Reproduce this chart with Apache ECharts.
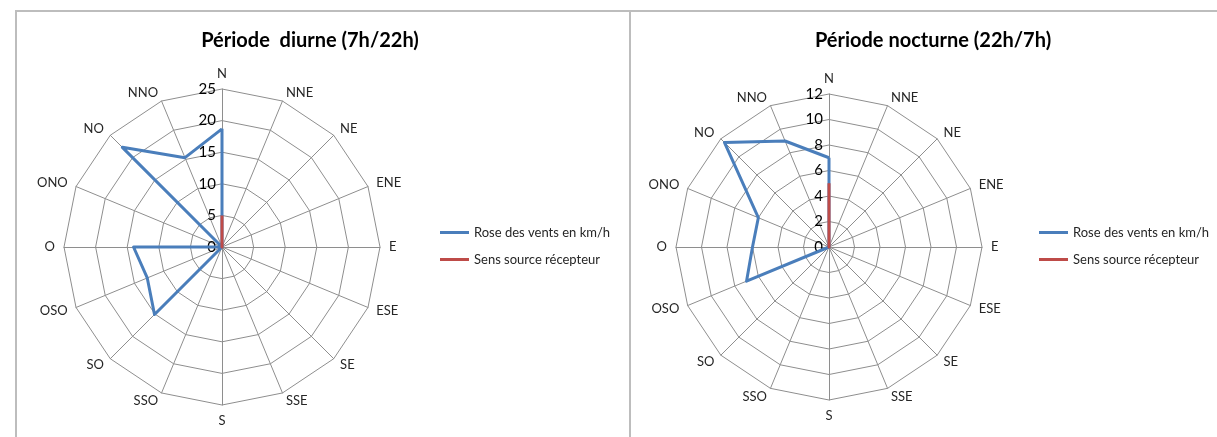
<!DOCTYPE html>
<html>
<head>
<meta charset="utf-8">
<script src="https://cdn.jsdelivr.net/npm/echarts@6/dist/echarts.min.js"></script>
<style>
  html, body { margin: 0; padding: 0; background: #fff; }
  #wrap { position: relative; width: 1217px; height: 437px; overflow: hidden; }
  .panel { position: absolute; top: 10px; height: 440px; border-top: 2px solid #bdbdbd; border-left: 2px solid #bdbdbd; box-sizing: border-box; }
  #chart { position: absolute; left: 0; top: 0; width: 1217px; height: 437px; }
</style>
</head>
<body>
<div id="wrap">
  <div class="panel" style="left:15px; width:615px;"></div>
  <div class="panel" style="left:629px; width:600px;"></div>
  <div id="chart"></div>
</div>
<script>
// Wind directions, clockwise from north
const directions = ['N', 'NNE', 'NE', 'ENE', 'E', 'ESE', 'SE', 'SSE', 'S', 'SSO', 'SO', 'OSO', 'O', 'ONO', 'NO', 'NNO'];

// Day period (7h/22h), km/h
const dayWind   = [18.7, 0, 0, 0, 0, 0, 0, 0, 0, 0, 15.1, 12.8, 14, 0, 22.3, 15.3];
const daySource = [5, 0, 0, 0, 0, 0, 0, 0, 0, 0, 0, 0, 0, 0, 0, 0];
// Night period (22h/7h), km/h
const nightWind   = [7, 0, 0, 0, 0, 0, 0, 0, 0, 0, 0, 7, 6, 6, 11.6, 9];
const nightSource = [5, 0, 0, 0, 0, 0, 0, 0, 0, 0, 0, 0, 0, 0, 0, 0];

// Radial scales
const dayMax = 25, dayStep = 5;
const nightMax = 12, nightStep = 2;

const titles = ['Période  diurne (7h/22h)', 'Période nocturne (22h/7h)'];
const seriesNames = ['Rose des vents en km/h', 'Sens source récepteur'];

const BLUE = '#4a7ebb';
const RED = '#be4b48';
const GRID = '#8e8e8e';
const FONT = 'Lato';

// ECharts radar runs counter-clockwise; reorder so directions run clockwise
const order = [0].concat(directions.map((_, i) => directions.length - 1 - i).slice(0, directions.length - 1));
const reorder = arr => order.map(i => arr[i]);

const panels = [
  { cx: 222, cy: 247, r: 158, max: dayMax, step: dayStep, wind: dayWind, src: daySource, titleX: 305, legendX: 435 },
  { cx: 829, cy: 247, r: 153, max: nightMax, step: nightStep, wind: nightWind, src: nightSource, titleX: 928, legendX: 1034 }
];

function radarOf(p) {
  return {
    center: [p.cx, p.cy],
    radius: p.r,
    startAngle: 90,
    shape: 'polygon',
    splitNumber: p.max / p.step,
    indicator: reorder(directions).map(n => ({ name: n, min: 0, max: p.max })),
    axisName: { color: '#262626', fontSize: 13, fontFamily: FONT },
    nameGap: 9,
    splitLine: { lineStyle: { color: GRID, width: 1 } },
    splitArea: { show: false },
    axisLine: { lineStyle: { color: GRID, width: 1 } },
    axisTick: { show: false },
    axisLabel: { show: false }
  };
}

const option = {
  backgroundColor: 'transparent',
  animation: false,
  textStyle: { fontFamily: FONT },
  title: panels.map((p, k) => ({
    text: titles[k],
    left: p.titleX,
    top: 26,
    textAlign: 'center',
    textStyle: { fontFamily: FONT, fontSize: 20, fontWeight: 'bold', color: '#000' }
  })),
  legend: panels.map(p => ({
    data: seriesNames,
    orient: 'vertical',
    left: p.legendX,
    top: 221,
    icon: 'rect',
    itemWidth: 29,
    itemHeight: 3,
    itemGap: 14,
    textStyle: { fontFamily: FONT, fontSize: 13, color: '#262626' }
  })),
  radar: panels.map(radarOf),
  polar: panels.map(p => ({ center: [p.cx, p.cy], radius: p.r })),
  angleAxis: panels.map((p, k) => ({
    polarIndex: k, type: 'value', min: 0, max: 360, startAngle: 90, show: false
  })),
  radiusAxis: panels.map((p, k) => ({
    polarIndex: k, type: 'value', min: 0, max: p.max, interval: p.step,
    axisLine: { show: false }, axisTick: { show: false }, splitLine: { show: false },
    axisLabel: { fontFamily: FONT, fontSize: 15, color: '#000', margin: 6 }
  })),
  series: panels.map((p, k) => ({
    type: 'radar',
    radarIndex: k,
    symbol: 'none',
    silent: true,
    data: [
      { name: seriesNames[0], value: reorder(p.wind), lineStyle: { color: BLUE, width: 3 }, itemStyle: { color: BLUE } },
      { name: seriesNames[1], value: reorder(p.src), lineStyle: { color: RED, width: 3 }, itemStyle: { color: RED } }
    ]
  }))
};

const chart = echarts.init(document.getElementById('chart'), null, { renderer: 'canvas' });
chart.setOption(option);
</script>
</body>
</html>
